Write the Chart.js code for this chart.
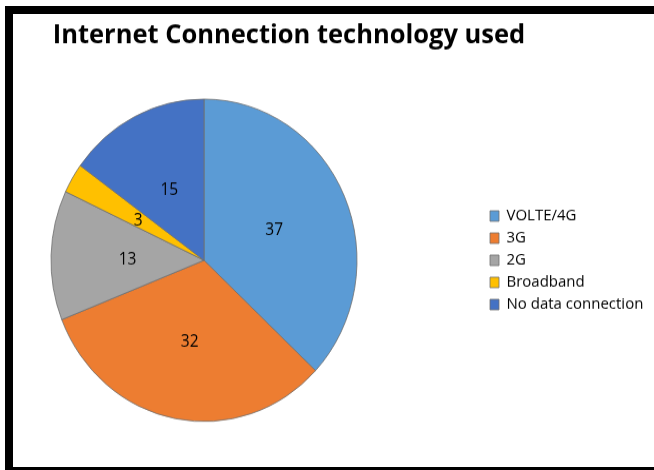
<!DOCTYPE html>
<html>
<head>
<meta charset="utf-8">
<script src="https://cdn.jsdelivr.net/npm/chart.js@4/dist/chart.umd.min.js"></script>
<style>
  html, body { margin: 0; padding: 0; background: #fff; overflow: hidden; }
  body { width: 654px; height: 470px; position: relative; }
  #frame {
    position: absolute; left: 5px; top: 6px; width: 700px; height: 469px;
    border: 8px solid #000; border-right: none; box-sizing: border-box;
  }
  #pie {
    position: absolute; left: 0; top: 0;
    transform-origin: 0 0; transform: scaleY(1.0538);
  }
</style>
</head>
<body>
<div id="frame"></div>
<canvas id="pie" width="654" height="446"></canvas>
<script>
const titleText = 'Internet Connection technology used';
const technologies = ['VOLTE/4G', '3G', '2G', 'Broadband', 'No data connection'];
const shares = [37, 32, 13, 3, 15];
const sliceColors = ['#5B9BD5', '#ED7D31', '#A5A5A5', '#FFC000', '#4472C4'];

const legendWidth = 170;
const plotLeft = -76;

// fixed-width legend column, and the plot area pulled left so the pie sits
// away from the legend
const legendColumn = {
  id: 'legendColumn',
  beforeInit(chart) {
    const fit = chart.legend.fit;
    chart.legend.fit = function () {
      fit.call(this);
      this.width = legendWidth;
    };
  },
  afterLayout(chart) {
    const area = chart.chartArea;
    area.left = plotLeft;
    area.width = area.right - area.left;
  }
};

// value printed in the middle of each slice
const sliceLabels = {
  id: 'sliceLabels',
  afterDatasetsDraw(chart) {
    const ctx = chart.ctx;
    const meta = chart.getDatasetMeta(0);
    ctx.save();
    ctx.font = '15.5px "Open Sans"';
    ctx.fillStyle = '#000';
    ctx.textAlign = 'center';
    ctx.textBaseline = 'middle';
    meta.data.forEach((arc, i) => {
      const p = arc.tooltipPosition();
      ctx.fillText(String(shares[i]), p.x, p.y + 2);
    });
    ctx.restore();
  }
};

new Chart(document.getElementById('pie'), {
  type: 'pie',
  data: {
    labels: technologies,
    datasets: [{
      data: shares,
      backgroundColor: sliceColors,
      borderColor: '#6f6f6f',
      borderWidth: 0.8
    }]
  },
  options: {
    responsive: false,
    animation: false,
    radius: 153,
    layout: { padding: { left: -76, right: 0, top: 0, bottom: 12 } },
    plugins: {
      title: {
        display: true,
        text: titleText,
        align: 'center',
        color: '#000',
        font: { family: 'Open Sans', size: 25.5, weight: 'bold' },
        padding: { top: 18, bottom: 11.4 }
      },
      legend: {
        position: 'right',
        fullSize: false,
        labels: {
          color: '#000',
          font: { family: 'Open Sans', size: 15 },
          boxWidth: 9,
          boxHeight: 10,
          padding: 6
        }
      },
      tooltip: { enabled: false }
    }
  },
  plugins: [legendColumn, sliceLabels]
});
</script>
</body>
</html>
